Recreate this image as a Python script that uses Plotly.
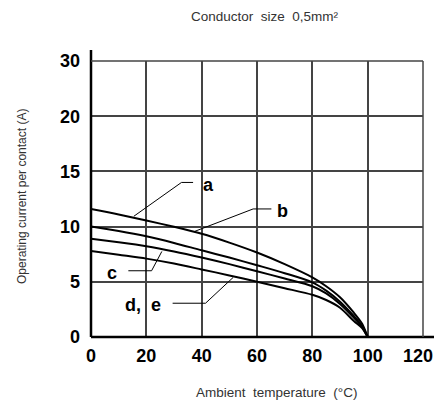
import plotly.graph_objects as go

# ---- data ----
temps = [0, 10, 20, 30, 40, 50, 60, 70, 80, 85, 90, 95, 98, 100]
curve_a = [11.6, 11.1, 10.55, 9.98, 9.35, 8.55, 7.65, 6.6, 5.4, 4.6, 3.6, 2.2, 1.2, 0]
curve_b = [10.0, 9.6, 9.12, 8.52, 7.85, 7.2, 6.5, 5.78, 4.95, 4.2, 3.2, 1.9, 1.0, 0]
curve_c = [8.9, 8.58, 8.22, 7.75, 7.2, 6.6, 5.95, 5.3, 4.6, 3.95, 3.0, 1.75, 0.9, 0]
curve_de = [7.8, 7.45, 7.1, 6.65, 6.12, 5.58, 5.0, 4.42, 3.82, 3.35, 2.65, 1.45, 0.8, 0]

x_ticks = [0, 20, 40, 60, 80, 100, 120]
y_tick_labels = [0, 5, 10, 15, 20, 30]

# y axis is linear 0..20 then one grid step for 20..30
def ymap(v):
    return v if v <= 20 else 20 + (v - 20) * 0.5

y_tick_pos = [ymap(v) for v in y_tick_labels]

# label leaders: (label, label x, label y, leader points)
labels = [
    ("a", 42.6, 13.8, [(15.5, 10.94), (32.7, 14.0), (36.9, 14.0)]),
    ("b", 69.3, 11.45, [(37.5, 9.57), (58.6, 11.6), (65.2, 11.6)]),
    ("c", 7.6, 5.8, [(25.6, 7.75), (21.9, 6.0), (13.5, 6.0)]),
    ("d,  e", 18.9, 2.9, [(51.4, 5.4), (41.4, 3.06), (29.5, 3.06)]),
]

fig = go.Figure()
for name, ys in [("a", curve_a), ("b", curve_b), ("c", curve_c), ("d, e", curve_de)]:
    fig.add_trace(go.Scatter(x=temps, y=[ymap(v) for v in ys], mode="lines",
                             line=dict(color="black", width=2, shape="spline", smoothing=0.8),
                             name=name, showlegend=False, hoverinfo="skip"))

for txt, lx, ly, pts in labels:
    fig.add_trace(go.Scatter(x=[p[0] for p in pts], y=[p[1] for p in pts], mode="lines",
                             line=dict(color="black", width=1), showlegend=False, hoverinfo="skip"))
    fig.add_annotation(x=lx, y=ly, text=txt.replace("  ", "\u00a0 "), showarrow=False,
                       xanchor="center", yanchor="middle",
                       font=dict(family="Liberation Sans, Arial, sans-serif", size=18, color="black", weight="bold"))

tick_font = dict(family="Liberation Sans, Arial, sans-serif", size=18, color="black", weight="bold")

# the last x tick label sits at the page edge; it is drawn as an annotation nudged inward
x_ticktext = [str(v) for v in x_ticks[:-1]] + [""]

fig.update_xaxes(range=[0, 120], tickvals=x_ticks, ticktext=x_ticktext,
                 showgrid=True, gridcolor="#444", gridwidth=1.5, zeroline=False,
                 showline=False, ticks="", tickfont=tick_font, ticklabelstandoff=6,
                 fixedrange=True)
fig.update_yaxes(range=[0, 25], tickvals=y_tick_pos, ticktext=[str(v) for v in y_tick_labels],
                 showgrid=True, gridcolor="#444", gridwidth=1.5, zeroline=False,
                 showline=False, ticks="", tickfont=tick_font, ticklabelstandoff=10,
                 fixedrange=True)
fig.add_annotation(x=x_ticks[-1], y=0, text=str(x_ticks[-1]), showarrow=False,
                   xanchor="center", yanchor="top", xshift=-5, yshift=-7, font=tick_font)

# extended axis lines
fig.add_shape(type="line", xref="x domain", yref="y domain", x0=0, x1=1.05, y0=0, y1=0,
              line=dict(color="black", width=2.5))
fig.add_shape(type="line", xref="x domain", yref="y domain", x0=0, x1=0, y0=0, y1=1.04,
              line=dict(color="black", width=2.5))
# right and top grid border
fig.add_shape(type="line", xref="x domain", yref="y domain", x0=1, x1=1, y0=0, y1=1,
              line=dict(color="#444", width=1.5))
fig.add_shape(type="line", xref="x domain", yref="y domain", x0=0, x1=1, y0=1, y1=1,
              line=dict(color="#444", width=1.5))

title_font = dict(family="Liberation Sans, Arial, sans-serif", size=13.5, color="#333")
fig.add_annotation(xref="paper", yref="paper", x=(265 - 91) / 332, y=1 + (61 - 16.5) / 276,
                   xanchor="center", yanchor="middle",
                   text="Conductor\u00a0 size\u00a0 0,5mm²", showarrow=False, font=title_font)
fig.add_annotation(xref="paper", yref="paper", x=(276 - 91) / 332, y=-(392 - 337) / 276,
                   xanchor="center", yanchor="middle",
                   text="Ambient\u00a0 temperature\u00a0 (°C)", showarrow=False, font=title_font)
fig.add_annotation(xref="paper", yref="paper", x=-(91 - 22) / 332, y=(337 - 197) / 276,
                   xanchor="center", yanchor="middle",
                   text="Operating current per contact (A)", showarrow=False, textangle=-90,
                   font=dict(family="Liberation Sans, Arial, sans-serif", size=12, color="#333"))

# page body has an 8px margin, so the figure sits at (8, 8) and is 426 wide
fig.update_layout(width=426, height=405, margin=dict(l=83, r=11, t=53, b=76),
                  plot_bgcolor="white", paper_bgcolor="white")

fig.write_html("out.html")
